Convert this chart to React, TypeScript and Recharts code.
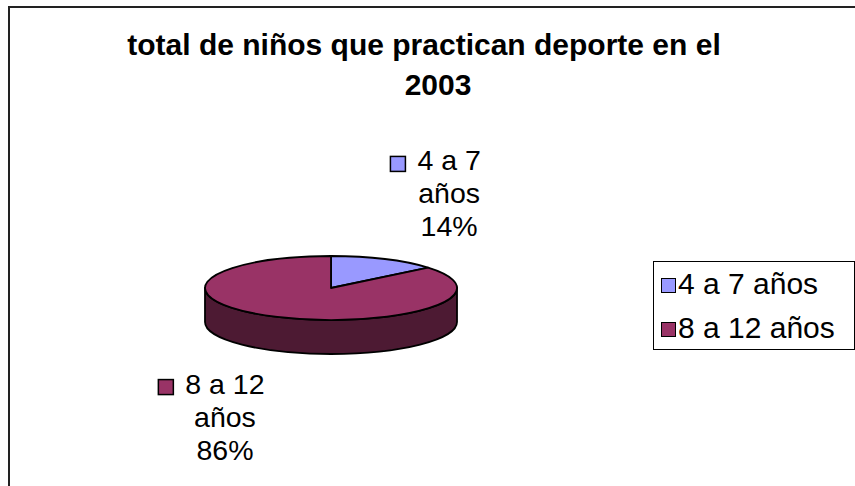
import React from 'react';
import { PieChart, Pie, Legend, Customized } from 'recharts';

const TITLE_LINES = ['total de niños que practican deporte en el', '2003'];
const CATEGORIES = ['4 a 7 años', '8 a 12 años'];
const LABEL_LINES = [['4 a 7', 'años'], ['8 a 12', 'años']];
const VALUES = [14, 86];
const COLORS = ['#9999FF', '#993366'];

const FONT = '"Liberation Sans", Arial, Helvetica, sans-serif';
const RAD = Math.PI / 180;
const TILT = 32 / 126; // flattening of the 3d pie
const DEPTH = 34;
const LABEL_SIZE = 28.5;
const LINE_GAP = 33;

const pieData = CATEGORIES.map((name, i) => ({ name, value: VALUES[i], fill: COLORS[i] }));

// darker colour for the pie wall
const shade = (hex: string) => {
  const n = parseInt(hex.slice(1), 16);
  const r = Math.round(((n >> 16) & 255) * 0.5);
  const g = Math.round(((n >> 8) & 255) * 0.5);
  const b = Math.round((n & 255) * 0.5);
  return `rgb(${r},${g},${b})`;
};

// rough Arial advance widths
const CHAR_W: Record<string, number> = { ' ': 0.278, s: 0.5, '%': 0.889 };
const textWidth = (s: string, size: number) =>
  s.split('').reduce((w, c) => w + (CHAR_W[c] ?? 0.556), 0) * size;

const Slice3D = (props: any) => {
  const { cx, cy, outerRadius, startAngle, endAngle, fill } = props;
  const rx = outerRadius;
  const ry = outerRadius * TILT;
  const pt = (a: number, dy = 0) => `${cx + rx * Math.cos(a * RAD)},${cy - ry * Math.sin(a * RAD) + dy}`;
  const hi = Math.max(startAngle, endAngle);
  const lo = Math.min(startAngle, endAngle);
  const large = hi - lo > 180 ? 1 : 0;
  const top = `M${cx},${cy} L${pt(hi)} A${rx},${ry} 0 ${large} 1 ${pt(lo)} Z`;
  const sides: string[] = [];
  for (let k = -2; k <= 1; k++) {
    const b0 = Math.max(lo, -180 + 360 * k);
    const b1 = Math.min(hi, 360 * k);
    if (b1 - b0 > 0.01) {
      sides.push(`M${pt(b1)} A${rx},${ry} 0 0 1 ${pt(b0)} L${pt(b0, DEPTH)} A${rx},${ry} 0 0 0 ${pt(b1, DEPTH)} Z`);
    }
  }
  return (
    <g>
      {sides.map((d, i) => (
        <path key={i} d={d} fill={shade(fill)} stroke="#000" strokeWidth={1.8} strokeLinejoin="round" />
      ))}
      <path d={top} fill={fill} stroke="#000" strokeWidth={1.8} strokeLinejoin="round" />
    </g>
  );
};

const renderLabel = (p: any) => {
  const { cx, cy, outerRadius, midAngle, percent, index } = p;
  const cos = Math.cos(midAngle * RAD);
  const sin = Math.sin(midAngle * RAD);
  const px = cx + (outerRadius + 30) * cos;
  const py = cy - (outerRadius * TILT + 25) * sin + (sin < 0 ? DEPTH : 0);
  const lines = [...LABEL_LINES[index], `${Math.round(percent * 100)}%`];
  const w = Math.max(...lines.map(l => textWidth(l, LABEL_SIZE)));
  const left = cos >= 0 ? px + 20 : px - w;
  const mid = left + w / 2;
  const base0 = sin >= 0 ? py - 2 * LINE_GAP : py + 20;
  const w0 = textWidth(lines[0], LABEL_SIZE);
  return (
    <g>
      <rect x={mid - w0 / 2 - 27} y={base0 - 14} width={15} height={15} fill={COLORS[index]} stroke="#000" strokeWidth={1.5} />
      {lines.map((l, i) => (
        <text key={i} x={mid} y={base0 + i * LINE_GAP} textAnchor="middle" fontFamily={FONT} fontSize={LABEL_SIZE} fill="#000">
          {l}
        </text>
      ))}
    </g>
  );
};

const renderLegend = (props: any) => {
  const payload = props.payload || [];
  return (
    <div style={{ boxSizing: 'border-box', width: 202, height: 89, border: '1.5px solid #000', background: '#fff', paddingLeft: 7, fontFamily: FONT, fontSize: 30, color: '#000' }}>
      {payload.map((item: any, i: number) => (
        <div key={i} style={{ display: 'flex', alignItems: 'center', height: 44, lineHeight: '44px', whiteSpace: 'nowrap' }}>
          <span style={{ display: 'inline-block', boxSizing: 'border-box', width: 15, height: 15, background: COLORS[i], border: '1.5px solid #000', marginRight: 2, marginTop: 3 }} />
          {item.value}
        </div>
      ))}
    </div>
  );
};

const Title = () => (
  <g>
    <text x={424} y={55} textAnchor="middle" fontFamily={FONT} fontSize={30} fontWeight="bold" fill="#000">{TITLE_LINES[0]}</text>
    <text x={438} y={95} textAnchor="middle" fontFamily={FONT} fontSize={30} fontWeight="bold" fill="#000">{TITLE_LINES[1]}</text>
  </g>
);

export default function App() {
  return (
    <div style={{ position: 'absolute', left: 0, top: 0, width: 855, height: 486, overflow: 'hidden', background: '#fff' }}>
      <div style={{ position: 'absolute', left: 8, top: 6, width: 900, height: 520, border: '2px solid #222' }} />
      <div style={{ position: 'absolute', left: 0, top: 0 }}>
        <PieChart width={855} height={486} margin={{ top: 0, right: 0, bottom: 0, left: 0 }}>
          <Customized component={Title} />
          <Pie
            data={pieData}
            dataKey="value"
            nameKey="name"
            cx={331}
            cy={288}
            outerRadius={126}
            startAngle={90}
            endAngle={-270}
            shape={Slice3D}
            label={renderLabel}
            labelLine={false}
            isAnimationActive={false}
          />
          <Legend
            layout="vertical"
            align="right"
            verticalAlign="top"
            content={renderLegend}
            wrapperStyle={{ left: 653, top: 261, width: 202, height: 89 }}
          />
        </PieChart>
      </div>
    </div>
  );
}
